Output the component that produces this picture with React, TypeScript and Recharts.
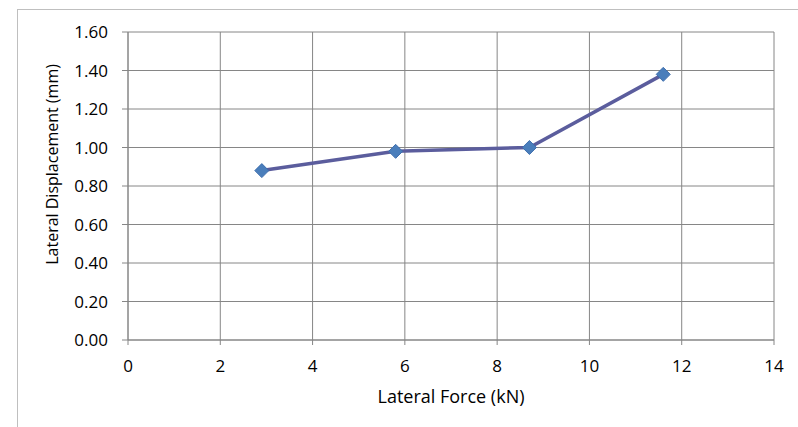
import React from "react";
import { LineChart, Line, XAxis, YAxis, CartesianGrid } from "recharts";

// Lateral force (kN) applied at each load step
const forces = [2.9, 5.8, 8.7, 11.6];
// Measured lateral displacement (mm) at each step
const displacements = [0.88, 0.98, 1.0, 1.38];

const xTicks = [0, 2, 4, 6, 8, 10, 12, 14];
const yTicks = [0, 0.2, 0.4, 0.6, 0.8, 1.0, 1.2, 1.4, 1.6];

const data = forces.map((f, i) => ({ force: f, disp: displacements[i] }));

const FONT = "'Open Sans', Lato, sans-serif";
const FS = 17;
const AXIS = "#868686";

const Diamond = (props: any) => {
  const { cx, cy } = props;
  if (cx == null || cy == null) return null;
  const r = 7;
  return (
    <polygon
      points={`${cx},${cy - r} ${cx + r},${cy} ${cx},${cy + r} ${cx - r},${cy}`}
      fill="#4a7ebb"
      stroke="#3f6fae"
      strokeWidth={1}
    />
  );
};

// Vertical axis title, sitting a little above the middle of the axis
const YTitle = (props: any) => {
  const vb = props.viewBox || {};
  const x = (vb.x ?? 0) + 58;
  const y = (vb.y ?? 0) + (vb.height ?? 0) * 0.43;
  return (
    <text
      x={x}
      y={y}
      transform={`rotate(-90, ${x}, ${y})`}
      textAnchor="middle"
      fill="#000"
      fontSize={16}
      fontFamily={FONT}
    >
      Lateral Displacement (mm)
    </text>
  );
};

export default function App() {
  return (
    <div
      style={{
        position: "absolute",
        left: 0,
        top: 0,
        width: 798,
        height: 427,
        overflow: "hidden",
        background: "#fff",
        fontFamily: FONT,
      }}
    >
      <div
        style={{
          position: "absolute",
          left: 17,
          top: 9,
          width: 800,
          height: 440,
          border: "1px solid #bfbfbf",
          boxSizing: "border-box",
        }}
      />
      <div style={{ position: "absolute", left: 0, top: 0 }}>
        <LineChart
          width={798}
          height={427}
          data={data}
          margin={{ top: 32, right: 24, bottom: 27, left: 0 }}
        >
          <CartesianGrid stroke={AXIS} strokeWidth={1} />
          <XAxis
            type="number"
            dataKey="force"
            domain={[0, 14]}
            ticks={xTicks}
            interval={0}
            height={60}
            stroke={AXIS}
            tickSize={5}
            tickMargin={15}
            tick={{ fill: "#000", fontSize: FS, fontFamily: FONT }}
            label={{
              value: "Lateral Force (kN)",
              position: "insideBottom",
              offset: -3,
              fill: "#000",
              fontSize: 18,
              fontFamily: FONT,
            }}
          />
          <YAxis
            type="number"
            domain={[0, 1.6]}
            ticks={yTicks}
            interval={0}
            width={128}
            stroke={AXIS}
            tickSize={6}
            tickMargin={14}
            tickFormatter={(v: number) => v.toFixed(2)}
            tick={{ fill: "#000", fontSize: FS, fontFamily: FONT }}
            label={<YTitle />}
          />
          <Line
            type="linear"
            dataKey="disp"
            stroke="#5b5d9d"
            strokeWidth={3.5}
            dot={<Diamond />}
            activeDot={false}
            isAnimationActive={false}
          />
        </LineChart>
      </div>
    </div>
  );
}
